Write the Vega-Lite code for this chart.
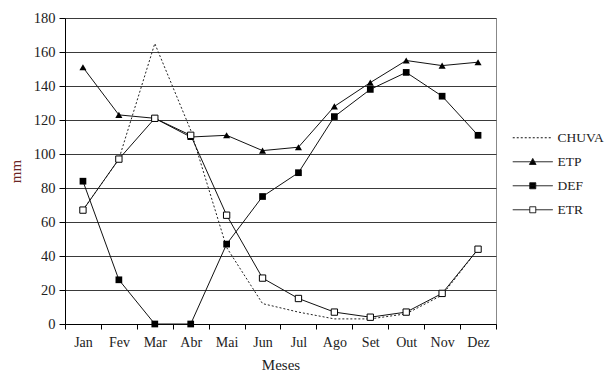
{
  "$schema": "https://vega.github.io/schema/vega-lite/v6.json",
  "width": 431,
  "height": 306,
  "autosize": {"type": "none"},
  "padding": {"left": 65, "top": 18, "right": 120, "bottom": 63},
  "background": "white",
  "config": {
    "view": {"stroke": "#888", "strokeWidth": 1},
    "font": "Liberation Serif"
  },
  "data": {
    "values": [
      {"mes": "Jan", "serie": "CHUVA", "valor": 67},
      {"mes": "Fev", "serie": "CHUVA", "valor": 97},
      {"mes": "Mar", "serie": "CHUVA", "valor": 165},
      {"mes": "Abr", "serie": "CHUVA", "valor": 114},
      {"mes": "Mai", "serie": "CHUVA", "valor": 45},
      {"mes": "Jun", "serie": "CHUVA", "valor": 12},
      {"mes": "Jul", "serie": "CHUVA", "valor": 7},
      {"mes": "Ago", "serie": "CHUVA", "valor": 3},
      {"mes": "Set", "serie": "CHUVA", "valor": 3},
      {"mes": "Out", "serie": "CHUVA", "valor": 6},
      {"mes": "Nov", "serie": "CHUVA", "valor": 17},
      {"mes": "Dez", "serie": "CHUVA", "valor": 44},
      {"mes": "Jan", "serie": "ETP", "valor": 151},
      {"mes": "Fev", "serie": "ETP", "valor": 123},
      {"mes": "Mar", "serie": "ETP", "valor": 121},
      {"mes": "Abr", "serie": "ETP", "valor": 110},
      {"mes": "Mai", "serie": "ETP", "valor": 111},
      {"mes": "Jun", "serie": "ETP", "valor": 102},
      {"mes": "Jul", "serie": "ETP", "valor": 104},
      {"mes": "Ago", "serie": "ETP", "valor": 128},
      {"mes": "Set", "serie": "ETP", "valor": 142},
      {"mes": "Out", "serie": "ETP", "valor": 155},
      {"mes": "Nov", "serie": "ETP", "valor": 152},
      {"mes": "Dez", "serie": "ETP", "valor": 154},
      {"mes": "Jan", "serie": "DEF", "valor": 84},
      {"mes": "Fev", "serie": "DEF", "valor": 26},
      {"mes": "Mar", "serie": "DEF", "valor": 0},
      {"mes": "Abr", "serie": "DEF", "valor": 0},
      {"mes": "Mai", "serie": "DEF", "valor": 47},
      {"mes": "Jun", "serie": "DEF", "valor": 75},
      {"mes": "Jul", "serie": "DEF", "valor": 89},
      {"mes": "Ago", "serie": "DEF", "valor": 122},
      {"mes": "Set", "serie": "DEF", "valor": 138},
      {"mes": "Out", "serie": "DEF", "valor": 148},
      {"mes": "Nov", "serie": "DEF", "valor": 134},
      {"mes": "Dez", "serie": "DEF", "valor": 111},
      {"mes": "Jan", "serie": "ETR", "valor": 67},
      {"mes": "Fev", "serie": "ETR", "valor": 97},
      {"mes": "Mar", "serie": "ETR", "valor": 121},
      {"mes": "Abr", "serie": "ETR", "valor": 111},
      {"mes": "Mai", "serie": "ETR", "valor": 64},
      {"mes": "Jun", "serie": "ETR", "valor": 27},
      {"mes": "Jul", "serie": "ETR", "valor": 15},
      {"mes": "Ago", "serie": "ETR", "valor": 7},
      {"mes": "Set", "serie": "ETR", "valor": 4},
      {"mes": "Out", "serie": "ETR", "valor": 7},
      {"mes": "Nov", "serie": "ETR", "valor": 18},
      {"mes": "Dez", "serie": "ETR", "valor": 44}
    ]
  },
  "encoding": {
    "x": {
      "field": "mes",
      "type": "ordinal",
      "sort": ["Jan", "Fev", "Mar", "Abr", "Mai", "Jun", "Jul", "Ago", "Set", "Out", "Nov", "Dez"],
      "scale": {"type": "band", "paddingInner": 0, "paddingOuter": 0},
      "axis": {
        "title": "Meses",
        "titleFont": "Liberation Serif",
        "titleFontSize": 15,
        "titleFontWeight": "normal",
        "titleColor": "#222",
        "titlePadding": 8,
        "labelFont": "Liberation Serif",
        "labelFontSize": 14,
        "labelColor": "#222",
        "labelAngle": 0,
        "labelPadding": 6,
        "tickBand": "extent",
        "tickColor": "#000",
        "tickSize": 5,
        "domainColor": "#000",
        "grid": false
      }
    },
    "y": {
      "field": "valor",
      "type": "quantitative",
      "scale": {"domain": [0, 180], "nice": false},
      "axis": {
        "title": "mm",
        "titleFont": "Liberation Serif",
        "titleFontSize": 15,
        "titleFontWeight": "normal",
        "titleColor": "#6b2424",
        "titlePadding": 10,
        "values": [0, 20, 40, 60, 80, 100, 120, 140, 160, 180],
        "labelFont": "Liberation Serif",
        "labelFontSize": 14.5,
        "labelColor": "#222",
        "labelPadding": 4,
        "tickColor": "#000",
        "tickSize": 6,
        "domainColor": "#000",
        "grid": true,
        "gridColor": "#3a3a3a",
        "gridWidth": 1,
        "gridOpacity": 1
      }
    }
  },
  "layer": [
    {
      "transform": [{"filter": "datum.serie === 'CHUVA'"}],
      "mark": {"type": "line", "color": "#222", "strokeWidth": 1, "strokeDash": [2, 2]},
      "encoding": {}
    },
    {
      "transform": [{"filter": "datum.serie !== 'CHUVA'"}],
      "mark": {"type": "line", "strokeWidth": 1},
      "encoding": {
        "color": {
          "field": "serie",
          "type": "nominal",
          "scale": {"domain": ["CHUVA", "ETP", "DEF", "ETR"], "range": ["#111", "#111", "#111", "#111"]},
          "legend": {
            "title": null,
            "orient": "none",
            "legendX": 461,
            "legendY": 113,
            "padding": 0,
            "symbolSize": 36,
            "symbolStrokeWidth": 1,
            "labelFont": "Liberation Serif",
            "labelFontSize": 13.5,
            "labelColor": "#222",
            "labelOffset": 18,
            "rowPadding": 9,
            "encode": {
              "symbols": {
                "update": {
                  "shape": {"signal": "datum.value === 'CHUVA' ? 'M-6.67,0H6.67' : datum.value === 'ETP' ? 'M-6.67,0H6.67M0,-1.1L1.1,0.9H-1.1Z' : datum.value === 'DEF' ? 'M-6.67,0H6.67M-1,-1H1V1H-1Z' : 'M-6.67,0H-1M1,0H6.67M-1,-1H1V1H-1Z'"},
                  "fill": {"signal": "datum.value === 'ETR' || datum.value === 'CHUVA' ? 'white' : 'black'"},
                  "strokeWidth": {"value": 1},
                  "strokeDash": {"signal": "datum.value === 'CHUVA' ? [2, 2] : [1, 0]"},
                  "opacity": {"value": 1}
                }
              }
            }
          }
        }
      }
    },
    {
      "transform": [{"filter": "datum.serie === 'ETP'"}],
      "mark": {"type": "point", "shape": "triangle-up", "filled": true, "color": "#000", "size": 50, "opacity": 1},
      "encoding": {}
    },
    {
      "transform": [{"filter": "datum.serie === 'DEF'"}],
      "mark": {"type": "point", "shape": "square", "filled": true, "color": "#000", "size": 45, "opacity": 1},
      "encoding": {}
    },
    {
      "transform": [{"filter": "datum.serie === 'ETR'"}],
      "mark": {"type": "point", "shape": "square", "filled": false, "fill": "white", "stroke": "#000", "strokeWidth": 1, "size": 40, "opacity": 1},
      "encoding": {}
    }
  ]
}
